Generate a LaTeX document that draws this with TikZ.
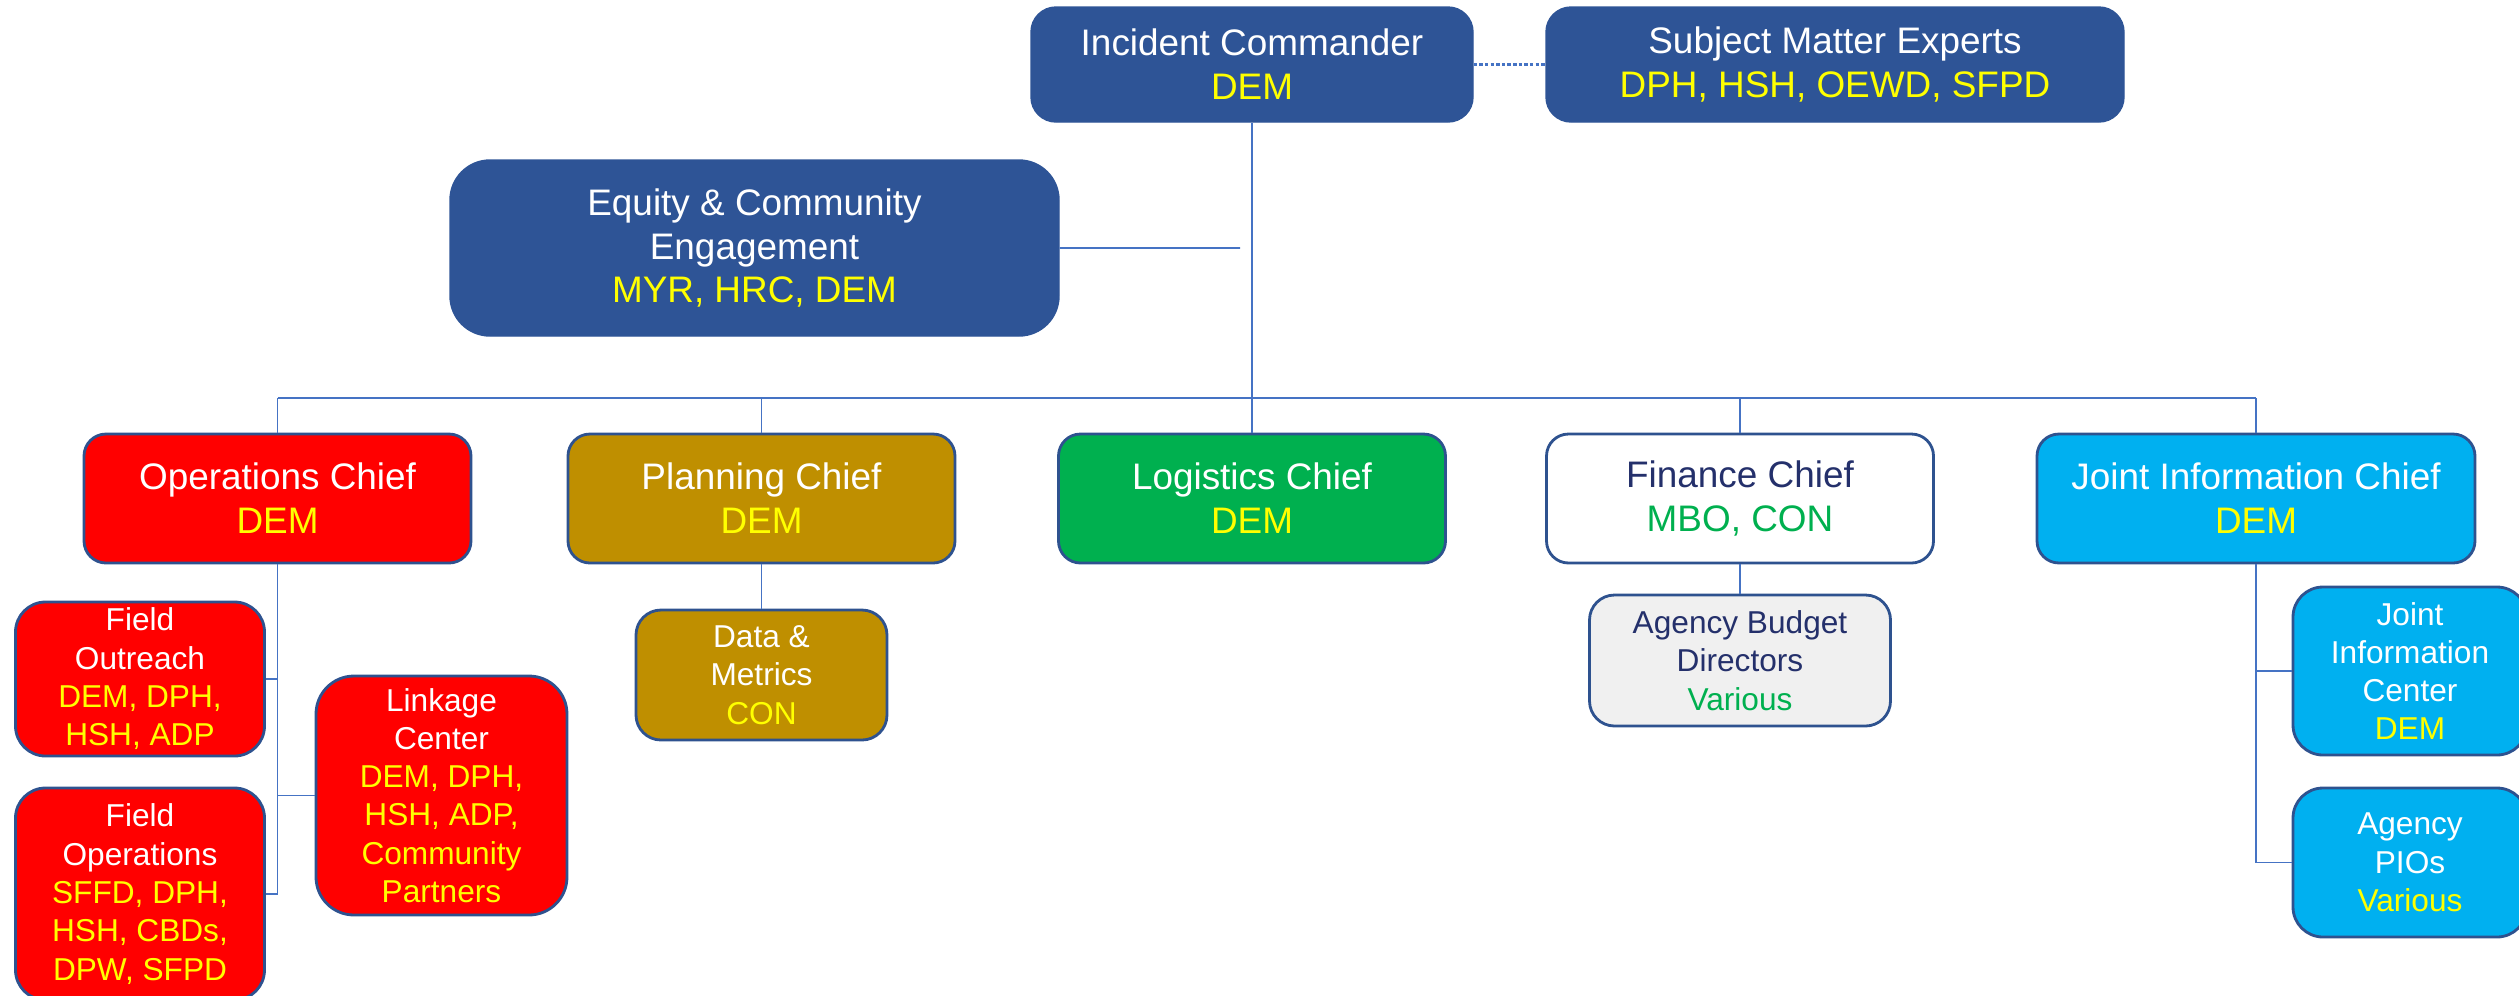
\documentclass[tikz,border=0pt]{standalone}
\usepackage{fontspec}
\setmainfont{Liberation Sans}
\usepackage{xcolor}
\usepackage{tikz}
\usetikzlibrary{positioning}
\definecolor{c_navy}{rgb}{0.18, 0.33, 0.59}
\definecolor{c_edge}{rgb}{0.18, 0.32, 0.56}
\definecolor{c_red}{rgb}{1.0, 0.0, 0.0}
\definecolor{c_gold}{rgb}{0.75, 0.56, 0.0}
\definecolor{c_green}{rgb}{0.0, 0.69, 0.31}
\definecolor{c_cyan}{rgb}{0.0, 0.69, 0.94}
\definecolor{c_grey}{rgb}{0.94, 0.94, 0.94}
\definecolor{c_ink}{rgb}{0.14, 0.19, 0.42}
\definecolor{c_yellow}{rgb}{1.0, 1.0, 0.0}
\definecolor{c_line}{rgb}{0.27, 0.45, 0.77}
\tikzset{c-top/.style={rectangle, rounded corners=0.25cm, inner sep=0pt, align=center, draw=c_navy, fill=c_navy, text=white, font=\fontsize{10.5pt}{12.5pt}\selectfont},
c-chief/.style={rectangle, rounded corners=0.22cm, inner sep=0pt, align=center, minimum width=3.87cm, minimum height=1.29cm, draw=c_edge, line width=0.8pt, text=white, font=\fontsize{10.5pt}{12.5pt}\selectfont},
c-sub/.style={rectangle, rounded corners=0.3cm, inner sep=0pt, align=center, minimum width=2.51cm, draw=c_edge, line width=0.8pt, text=white, font=\fontsize{9pt}{10.9pt}\selectfont},
link/.style={c_line, line width=0.5pt}}

\begin{document}
\begin{tikzpicture}[node distance=4.34cm]
\useasboundingbox (0,0) rectangle (25.19,-9.95);
\node (n0) [c-top, minimum width=4.42cm, minimum height=1.15cm] at (12.52,-0.645) {
Incident Commander\\
\textcolor{c_yellow}{DEM}
};
\node (n1) [c-top, right of=n0, node distance=5.83cm, minimum width=5.78cm, minimum height=1.15cm] {
Subject Matter Experts\\
\textcolor{c_yellow}{DPH, HSH, OEWD, SFPD}
};
\node (n2) [c-top, below of=n0, node distance=1.835cm, xshift=-4.975cm, minimum width=6.09cm, minimum height=1.76cm, rounded corners=0.4cm] {
Equity \& Community\\
Engagement\\
\textcolor{c_yellow}{MYR, HRC, DEM}
};
\node (n3) [c-chief, below of=n0, xshift=-9.745cm, fill=c_red] {
Operations Chief\\
\textcolor{c_yellow}{DEM}
};
\node (n4) [c-chief, below of=n0, xshift=-4.905cm, fill=c_gold] {
Planning Chief\\
\textcolor{c_yellow}{DEM}
};
\node (n5) [c-chief, below of=n0, fill=c_green] {
Logistics Chief\\
\textcolor{c_yellow}{DEM}
};
\node (n6) [c-chief, below of=n0, xshift=4.88cm, fill=white, text=c_ink] {
Finance Chief\\
\textcolor{c_green}{MBO, CON}
};
\node (n7) [c-chief, below of=n0, xshift=10.04cm, minimum width=4.38cm, fill=c_cyan] {
Joint Information Chief\\
\textcolor{c_yellow}{DEM}
};
\node (n8) [c-sub, below of=n3, node distance=1.805cm, xshift=-1.375cm, minimum width=2.49cm, minimum height=1.54cm, fill=c_red] {
Field\\
Outreach\\
\textcolor{c_yellow}{DEM, DPH,}\\
\textcolor{c_yellow}{HSH, ADP}
};
\node (n9) [c-sub, below of=n3, node distance=3.955cm, xshift=-1.375cm, minimum width=2.49cm, minimum height=2.12cm, fill=c_red] {
Field\\
Operations\\
\textcolor{c_yellow}{SFFD, DPH,}\\
\textcolor{c_yellow}{HSH, CBDs,}\\
\textcolor{c_yellow}{DPW, SFPD}
};
\node (n10) [c-sub, below of=n3, node distance=2.97cm, xshift=1.64cm, minimum height=2.39cm, rounded corners=0.38cm, fill=c_red] {
Linkage\\
Center\\
\textcolor{c_yellow}{DEM, DPH,}\\
\textcolor{c_yellow}{HSH, ADP,}\\
\textcolor{c_yellow}{Community}\\
\textcolor{c_yellow}{Partners}
};
\node (n11) [c-sub, below of=n4, node distance=1.765cm, minimum height=1.3cm, rounded corners=0.25cm, fill=c_gold] {
Data \&\\
Metrics\\
\textcolor{c_yellow}{CON}
};
\node (n12) [c-sub, below of=n6, node distance=1.62cm, minimum width=3.01cm, minimum height=1.31cm, rounded corners=0.25cm, fill=c_grey, text=c_ink] {
Agency Budget\\
Directors\\
\textcolor{c_green}{Various}
};
\node (n13) [c-sub, below of=n7, node distance=1.725cm, xshift=1.54cm, minimum width=2.34cm, minimum height=1.68cm, fill=c_cyan] {
Joint\\
Information\\
Center\\
\textcolor{c_yellow}{DEM}
};
\node (n14) [c-sub, below of=n7, node distance=3.64cm, xshift=1.54cm, minimum width=2.34cm, minimum height=1.49cm, fill=c_cyan] {
Agency\\
PIOs\\
\textcolor{c_yellow}{Various}
};
\coordinate (bar) at (12.52,-3.98);
\coordinate (e0) at (12.40,-2.48);
\draw [link, line width=0.7pt, dash pattern=on 1pt off 0.6pt] (n0) -- (n1);
\draw [link] (n0) -- (n5);
\draw [link] (n2) -- (e0);
\draw [link] (n3.north |- bar) -- (n7.north |- bar);
\draw [link] (n3) -- (n3.north |- bar);
\draw [link] (n4) -- (n4.north |- bar);
\draw [link] (n6) -- (n6.north |- bar);
\draw [link] (n7) -- (n7.north |- bar);
\draw [link] (n3) |- (n9);
\draw [link] (n8) -- (n8 -| n3);
\draw [link] (n10) -- (n10 -| n3);
\draw [link] (n4) -- (n11);
\draw [link] (n6) -- (n12);
\draw [link] (n7) |- (n14);
\draw [link] (n13) -- (n13 -| n7);
\end{tikzpicture}
\end{document}
